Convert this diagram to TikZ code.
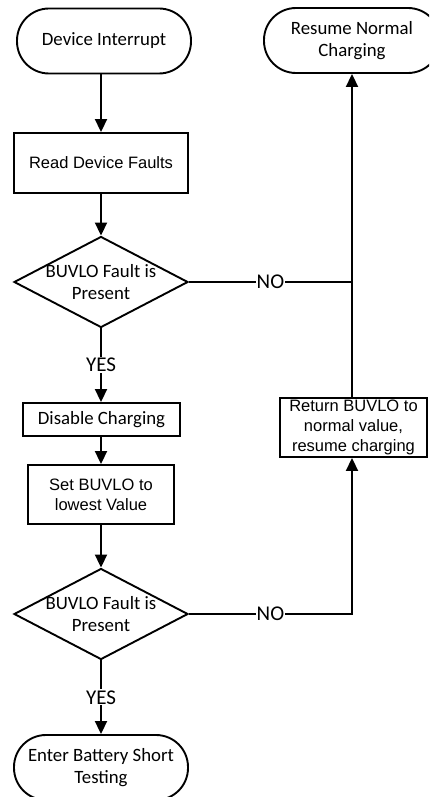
\documentclass[tikz,border=0pt]{standalone}
\usepackage{fontspec}
\setmainfont{Carlito}
\newfontfamily\arialfont{Liberation Sans}
\usetikzlibrary{arrows.meta,shapes.geometric}

\tikzset{
  cal/.style={font=\fontsize{18.8}{22}\selectfont},
  ari/.style={font=\arialfont\fontsize{16.5}{20}\selectfont},
  terminal/.style={draw, line width=1.9pt, rectangle, rounded corners=32pt,
    minimum height=65pt, align=center, inner sep=0pt, cal},
  procbox/.style={draw, line width=1.9pt, rectangle, align=center, inner sep=0pt},
  decision/.style={draw, line width=1.9pt, diamond, minimum width=174pt,
    minimum height=91pt, inner sep=0pt},
  flow/.style={line width=1.9pt, -{Triangle[width=12pt,length=13pt]}},
  plain/.style={line width=1.9pt},
  lbl/.style={fill=white, inner sep=1pt, font=\fontsize{21}{24}\selectfont}
}

\begin{document}
\begin{tikzpicture}[x=1pt, y=-1pt]
\useasboundingbox (0,0) rectangle (429,797);
\clip (0,0) rectangle (429,797);

% left column
\node[terminal, minimum width=174pt] (start) at (104,41) {Device Interrupt};
\node[procbox, ari, minimum width=174pt, minimum height=60pt] (read) at (101,163) {Read Device Faults};
\node[decision, label={[cal, align=center]center:BUVLO Fault is\\Present}] (dec1) at (101,282) {};
\node[procbox, cal, minimum width=157pt, minimum height=33pt] (disable) at (101.5,419.5) {Disable Charging};
\node[procbox, ari, minimum width=146pt, minimum height=59pt] (setb) at (101,494.5) {Set BUVLO to\\lowest Value};
\node[decision, label={[cal, align=center]center:BUVLO Fault is\\Present}] (dec2) at (101,614) {};
\node[terminal, minimum width=174pt] (short) at (101,767.5) {Enter Battery Short\\Testing};

% right column
\node[terminal, minimum width=176pt] (resume) at (352,40.5) {Resume Normal\\Charging};
\node[procbox, ari, minimum width=147pt, minimum height=59pt] (ret) at (353.5,427.5) {Return BUVLO to\\normal value,\\resume charging};

\coordinate (join) at (352,282);
\coordinate (corner) at (352,614);

% connectors
\draw[flow] (start.south -| read.north) -- (read.north);
\draw[flow] (read.south) -- (dec1.north);
\draw[flow] (dec1.south) -- node[lbl] {YES} (disable.north -| dec1.south);
\draw[flow] (disable.south -| setb.north) -- (setb.north);
\draw[flow] (setb.south) -- (dec2.north);
\draw[flow] (dec2.south) -- node[lbl] {YES} (short.north);

\draw[plain] (dec1.east) -- node[lbl] {NO} (join);
\draw[flow] (dec2.east) -- node[lbl] {NO} (corner) -- (corner |- ret.south);
\draw[flow] (join |- ret.north) -- (join |- resume.south);
\end{tikzpicture}
\end{document}
